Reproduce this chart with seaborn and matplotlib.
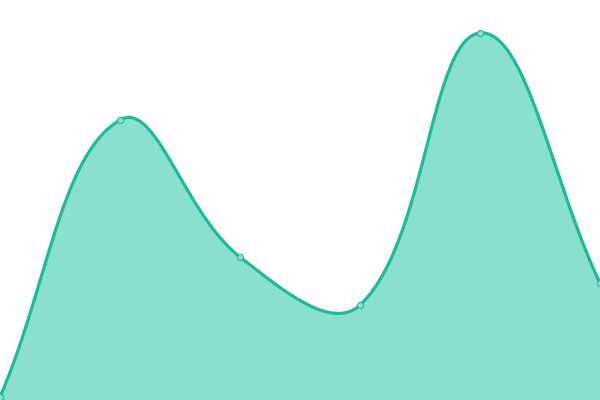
import numpy as np
import pandas as pd
import matplotlib
matplotlib.use("Agg")
import matplotlib.pyplot as plt
import seaborn as sns

# valores (escala 0-400)
categorias = [0, 1, 2, 3, 4, 5]
valores = [3, 280, 143, 95, 367, 117]

color_linea = "#1abc9c"
color_relleno = "#89e0cf"
tension = 0.4

sns.set_theme(style="white")
fig = plt.figure(figsize=(6, 4), dpi=100)
ax = fig.add_axes([0, 0, 1, 1])
ax.set_xlim(0, 5)
ax.set_ylim(0, 400)

# curva tipo Chart.js (spline con tension) calculada en pixeles
pts = ax.transData.transform(np.column_stack([categorias, valores]))
n = len(pts)
ctrl_prev = []
ctrl_next = []
for i in range(n):
    prev = pts[i - 1] if i > 0 else pts[i]
    cur = pts[i]
    nxt = pts[i + 1] if i < n - 1 else pts[i]
    d01 = np.hypot(*(cur - prev))
    d12 = np.hypot(*(nxt - cur))
    s01 = d01 / (d01 + d12) if d01 + d12 > 0 else 0
    s12 = d12 / (d01 + d12) if d01 + d12 > 0 else 0
    fa = tension * s01
    fb = tension * s12
    ctrl_prev.append(cur - fa * (nxt - prev))
    ctrl_next.append(cur + fb * (nxt - prev))

t = np.linspace(0, 1, 60)[:, None]
curva = []
for i in range(n - 1):
    p0, p1, p2, p3 = pts[i], ctrl_next[i], ctrl_prev[i + 1], pts[i + 1]
    seg = ((1 - t) ** 3) * p0 + 3 * ((1 - t) ** 2) * t * p1 + 3 * (1 - t) * t ** 2 * p2 + t ** 3 * p3
    curva.append(seg if i == 0 else seg[1:])
curva = ax.transData.inverted().transform(np.vstack(curva))
df_curva = pd.DataFrame({"x": curva[:, 0], "y": curva[:, 1]})

ax.fill_between(df_curva["x"], df_curva["y"], 0, color=color_relleno, linewidth=0, zorder=1)
sns.lineplot(data=df_curva, x="x", y="y", sort=False, color=color_linea, linewidth=2.3, ax=ax, zorder=2)

df_puntos = pd.DataFrame({"x": categorias, "y": valores})
sns.scatterplot(data=df_puntos, x="x", y="y", s=20, color=color_relleno, edgecolor=color_linea,
                linewidth=0.8, ax=ax, zorder=3, clip_on=True)

ax.set_axis_off()
fig.savefig("out.png", dpi=100)
